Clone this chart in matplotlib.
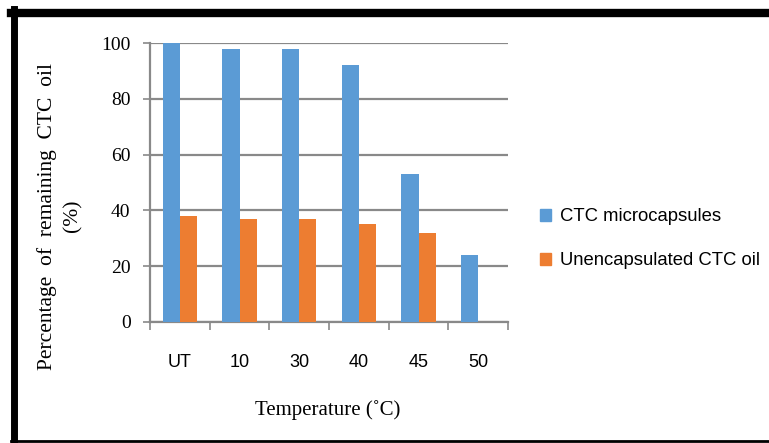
import numpy as np
import matplotlib
matplotlib.use('Agg')
import matplotlib.pyplot as plt
from matplotlib.lines import Line2D
from matplotlib.patches import Patch

categories = ['UT', '10', '30', '40', '45', '50']
micro = [100, 98, 98, 92, 53, 24]
unencap = [38, 37, 37, 35, 32, 0]
yticks = [0, 20, 40, 60, 80, 100]

blue = '#5B9BD5'
orange = '#ED7D31'
grid_c = '#898989'

W, H = 769, 443
fig = plt.figure(figsize=(W / 100, H / 100), dpi=100)
ax = fig.add_axes([150 / W, 1 - 322 / H, 358 / W, 279 / H])

x = np.arange(len(categories))
bw = 0.285
ax.bar(x - bw / 2, micro, bw, color=blue, zorder=3)
ax.bar(x + bw / 2, unencap, bw, color=orange, zorder=3)

ax.set_xlim(-0.5, len(categories) - 0.5)
ax.set_ylim(0, 100)
ax.set_yticks(yticks)
ax.set_yticklabels([str(v) for v in yticks], family='Liberation Serif', fontsize=14)
ax.yaxis.grid(True, color=grid_c, lw=1.6, zorder=0)
ax.tick_params(axis='y', length=5, width=1.2, color=grid_c, pad=9)

ax.set_xticks(x)
ax.set_xticklabels(categories, family='Liberation Sans', fontsize=13)
ax.set_xticks(np.arange(len(categories) + 1) - 0.5, minor=True)
ax.tick_params(axis='x', which='major', length=0, pad=23)
ax.tick_params(axis='x', which='minor', length=6, width=1.2, color=grid_c)

for s in ['top', 'right']:
    ax.spines[s].set_visible(False)
for s in ['left', 'bottom']:
    ax.spines[s].set_color(grid_c)
    ax.spines[s].set_linewidth(1.6)

fig.text(47 / W, 1 - 216 / H, 'Percentage  of  remaining  CTC  oil', rotation=90,
         ha='center', va='center', family='Liberation Serif', fontsize=15.5)
fig.text(73 / W, 1 - 216 / H, '(%)', rotation=90,
         ha='center', va='center', family='Liberation Serif', fontsize=15.5)
fig.text(328 / W, 1 - 410 / H, 'Temperature (\u02daC)', ha='center', va='center',
         family='Liberation Serif', fontsize=15)

handles = [Patch(color=blue), Patch(color=orange)]
fig.legend(handles, ['CTC microcapsules', 'Unencapsulated CTC oil'],
           loc='upper left', bbox_to_anchor=(533 / W, 1 - 201 / H),
           frameon=False, prop={'family': 'Liberation Sans', 'size': 13.3},
           handlelength=0.6, handleheight=0.6, handletextpad=0.45,
           labelspacing=1.45, borderaxespad=0)

# black frame on left, top and bottom
fig.add_artist(Line2D([14 / W, 14 / W], [0, 1 - 9 / H], color='black', lw=5, transform=fig.transFigure))
fig.add_artist(Line2D([11 / W, 1], [1 - 13 / H, 1 - 13 / H], color='black', lw=6, transform=fig.transFigure))
fig.add_artist(Line2D([11 / W, 1], [1 - 441 / H, 1 - 441 / H], color='black', lw=2, transform=fig.transFigure))

fig.savefig('out.png', dpi=100)
